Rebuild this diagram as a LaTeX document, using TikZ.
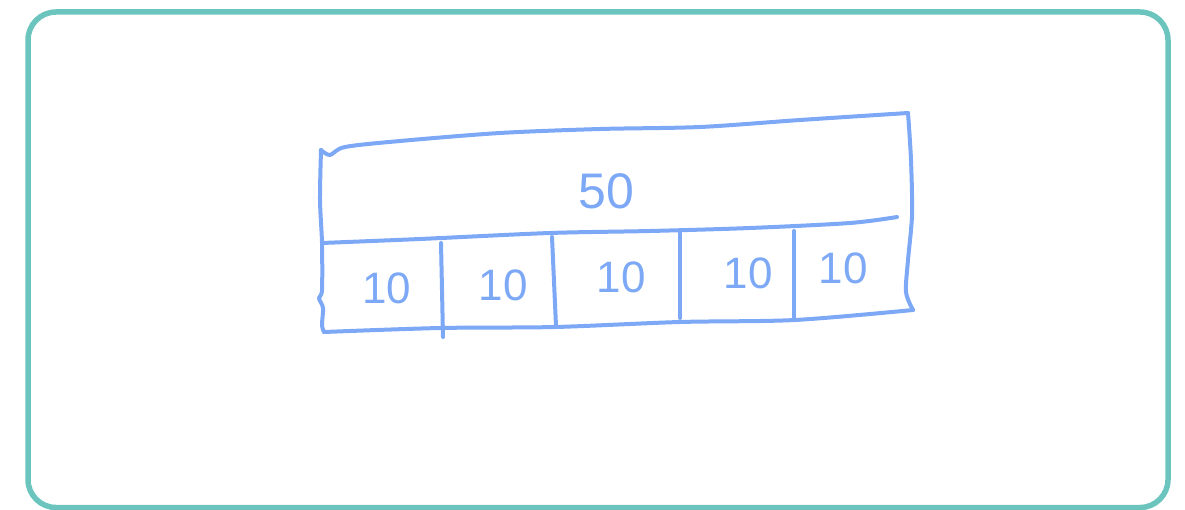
\documentclass[tikz,border=0pt]{standalone}
\usepackage{fontspec}
\setmainfont{Liberation Sans}
\definecolor{frame}{HTML}{6CC4BE}
\definecolor{pen}{HTML}{7CA8F6}
\tikzset{
  frameline/.style={draw=frame, line width=5.5pt, rounded corners=28pt},
  penline/.style={draw=pen, line width=4pt, line cap=round, line join=round},
  numlabel/.style={text=pen, font=\fontsize{44}{44}\selectfont, inner sep=0pt},
  biglabel/.style={text=pen, font=\fontsize{50}{50}\selectfont, inner sep=0pt}
}
\begin{document}
\begin{tikzpicture}[x=1pt,y=-1pt]
\useasboundingbox (0,0) rectangle (1185,510);
\draw[frameline] (28,12) rectangle (1168,507.5);
% top edge
\draw[penline] plot[smooth, tension=0.5] coordinates {(321,150) (330,155) (345,147) (400,141) (500,133) (600,129) (700,127) (800,120) (908,113)};
% right edge
\draw[penline] plot[smooth, tension=0.5] coordinates {(908,113) (911,160) (912,215) (908,260) (906,292) (913,310)};
% left edge
\draw[penline] plot[smooth, tension=0.5] coordinates {(321,150) (320,200) (322,243) (322,290) (319,298) (323,308) (322,325) (324,332)};
% middle line
\draw[penline] plot[smooth, tension=0.5] coordinates {(322,243) (420,239) (550,233) (650,231) (750,228) (850,223) (897,217)};
% bottom line
\draw[penline] plot[smooth, tension=0.5] coordinates {(324,332) (440,328) (555,327) (680,322) (795,320) (913,310)};
% dividers
\draw[penline] (441,243) -- (443,337);
\draw[penline] (552,237) -- (556,326);
\draw[penline] (680,233) -- (680,318);
\draw[penline] (794,231) -- (794,319);
% labels
\node[biglabel] (l50) at (606,191) {50};
\node[numlabel] (a) at (387,288) {10};
\node[numlabel] (b) at (503,285) {10};
\node[numlabel] (c) at (621,277) {10};
\node[numlabel] (d) at (748,273) {10};
\node[numlabel] (e) at (843,268) {10};
\end{tikzpicture}
\end{document}
